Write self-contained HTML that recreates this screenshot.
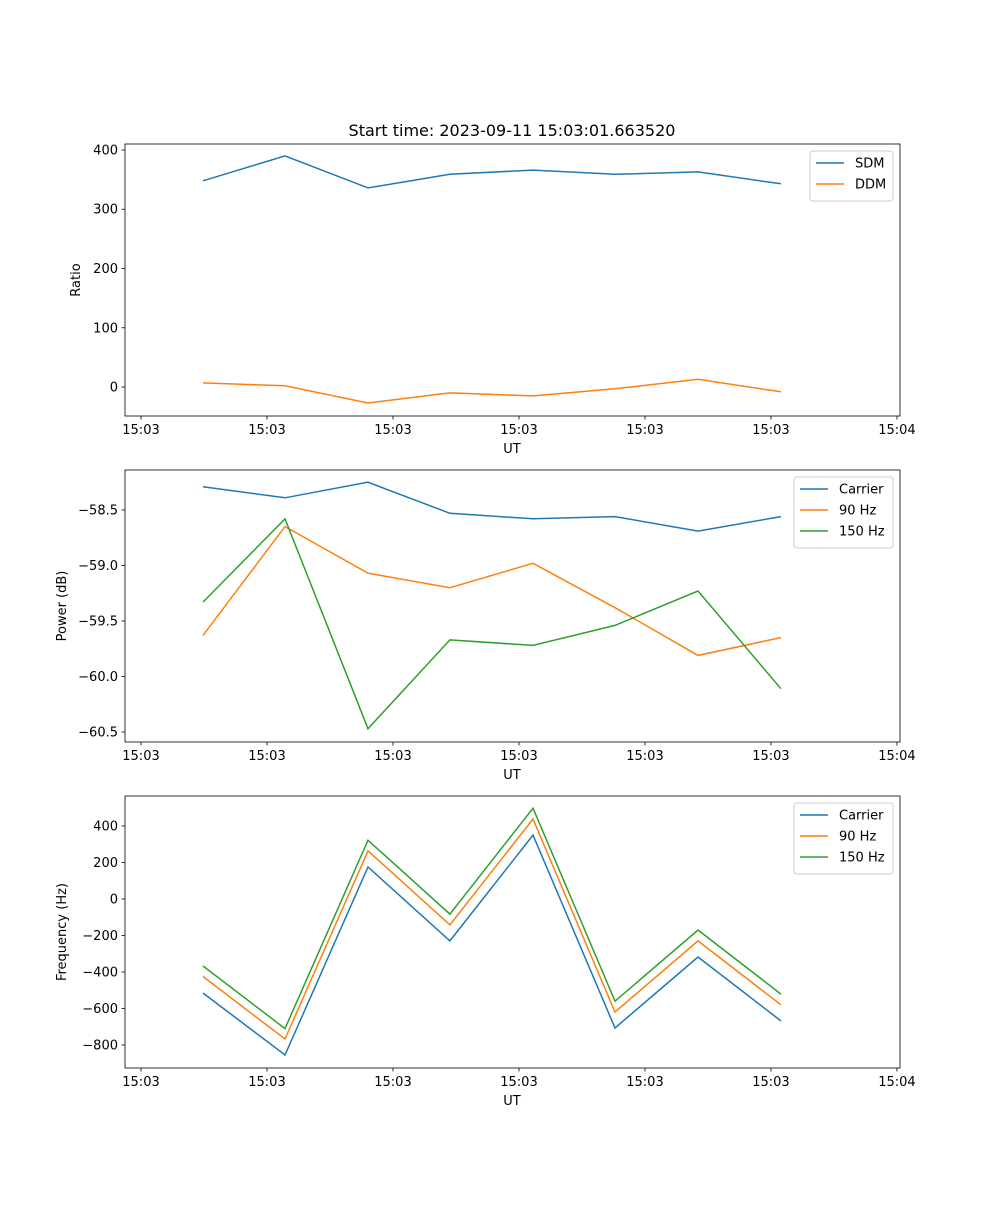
<!DOCTYPE html>
<html><head><meta charset="utf-8"><style>
body{margin:0;background:#fff}
svg text{font-family:"DejaVu Sans","Liberation Sans",sans-serif;fill:#000}
</style></head><body>
<svg id="fig" width="1000" height="1200" xmlns="http://www.w3.org/2000/svg">
<rect width="1000" height="1200" fill="#fff"/>
<text x="512" y="136" font-size="16" text-anchor="middle">Start time: 2023-09-11 15:03:01.663520</text>
</svg>
<script>
const times=[4.92,11.43,18.02,24.52,31.11,37.62,44.21,50.79];
const xTickVals=[0,10,20,30,40,50,60];
const xTickLabels=["15:03","15:03","15:03","15:03","15:03","15:03","15:04"];
const sdm=[348,390,336,359,366,359,363,343];
const ddm=[7,2,-27,-10,-15,-3,13,-8];
const pwrCarrier=[-58.29,-58.39,-58.25,-58.53,-58.58,-58.56,-58.69,-58.56];
const pwr90=[-59.63,-58.65,-59.07,-59.2,-58.98,-59.38,-59.81,-59.65];
const pwr150=[-59.33,-58.58,-60.47,-59.67,-59.72,-59.54,-59.23,-60.11];
const frqCarrier=[-515,-855,175,-230,350,-707,-318,-668];
const frq90=[-425,-767,263,-142,438,-619,-230,-580];
const frq150=[-367,-710,322,-83,497,-560,-170,-521];
const yTicks1=[0,100,200,300,400];
const yTicks2=[-60.5,-60,-59.5,-59,-58.5];
const yTickLabels2=["\u221260.5","\u221260.0","\u221259.5","\u221259.0","\u221258.5"];
const yTicks3=[-800,-600,-400,-200,0,200,400];

const NS="http://www.w3.org/2000/svg";
const svg=document.getElementById('fig');
const C=['#1f77b4','#ff7f0e','#2ca02c'];
function el(t,a,p){const e=document.createElementNS(NS,t);for(const k in a)e.setAttribute(k,a[k]);(p||svg).appendChild(e);return e;}
const X0=125,X1=900,xmin=-1.27,xmax=60.24;
function xs(v){return X0+(v-xmin)/(xmax-xmin)*(X1-X0);}
function fmt(v){return v<0?'\u2212'+Math.abs(v):String(v);}
function panel(name,top,ymin,ymax,ticks,tickLabels,ylabel,series,names,legW){
  const bot=top+272;
  const ys=v=>bot-(v-ymin)/(ymax-ymin)*272;
  const g=el('g',{});
  
  
  series.forEach((s,i)=>{
    const pts=s.map((v,j)=>xs(times[j]).toFixed(1)+','+ys(v).toFixed(1)).join(' ');
    const l=el('polyline',{points:pts,fill:'none',stroke:C[i],'stroke-width':1.5},g);
    
    
  });
  el('rect',{x:X0,y:top,width:X1-X0,height:272,fill:'none',stroke:'#000','stroke-width':0.8},g);
  xTickVals.forEach((v,i)=>{const x=xs(v);
    el('line',{x1:x,x2:x,y1:bot,y2:bot+3.5,stroke:'#000','stroke-width':0.8},g);
    const t=el('text',{x:x,y:bot+18,'font-size':13,'text-anchor':'middle'},g);t.textContent=xTickLabels[i];
    
    
  });
  ticks.forEach((v,i)=>{const y=ys(v);
    el('line',{x1:X0,x2:X0-3.5,y1:y,y2:y,stroke:'#000','stroke-width':0.8},g);
    const t=el('text',{x:X0-7,y:y+4.5,'font-size':13,'text-anchor':'end'},g);t.textContent=tickLabels?tickLabels[i]:fmt(v);
    
    
  });
  const xl=el('text',{x:512,y:bot+37,'font-size':13,'text-anchor':'middle'},g);xl.textContent='UT';
  
  
  const lx=ylabel==='Ratio'?80:66;
  const yl=el('text',{x:lx,y:top+136,'font-size':13,'text-anchor':'middle',transform:`rotate(-90 ${lx} ${top+136})`},g);yl.textContent=ylabel;
  
  
  const lg=el('g',{},g);
  
  
  const lx0=893-legW,ly0=top+7;
  el('rect',{x:lx0,y:ly0,width:legW,height:8+names.length*21,rx:3,fill:'#fff','fill-opacity':0.8,stroke:'#ccc'},lg);
  names.forEach((n,i)=>{const y=ly0+12+i*21;
    el('line',{x1:lx0+6,x2:lx0+34,y1:y,y2:y,stroke:C[i],'stroke-width':1.5},lg);
    const t=el('text',{x:lx0+45,y:y+4.5,'font-size':13},lg);t.textContent=n;
    
    
  });
}
panel('ratio',144,-48.9,410.1,yTicks1,null,'Ratio',[sdm,ddm],['SDM','DDM'],83);
panel('power',470,-60.59,-58.14,yTicks2,yTickLabels2,'Power (dB)',[pwrCarrier,pwr90,pwr150],['Carrier','90 Hz','150 Hz'],99);
panel('frequency',796,-926,564,yTicks3,null,'Frequency (Hz)',[frqCarrier,frq90,frq150],['Carrier','90 Hz','150 Hz'],99);
</script>
</body></html>
